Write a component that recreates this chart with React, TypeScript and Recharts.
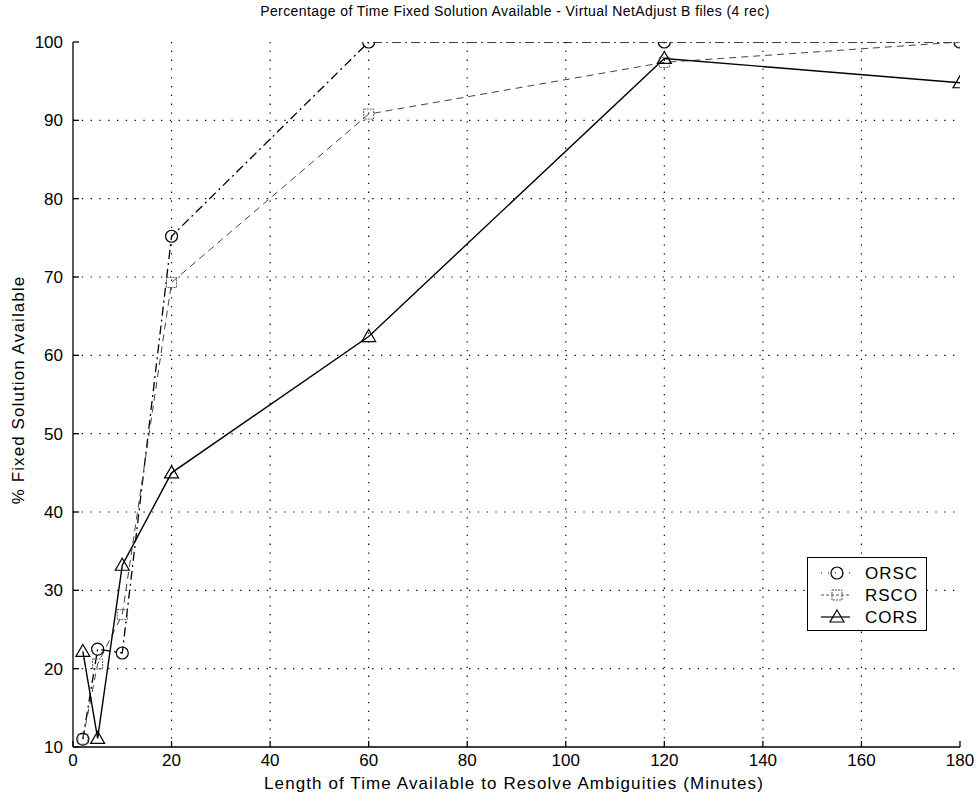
import React from 'react';
import { LineChart, Line, XAxis, YAxis, CartesianGrid, Legend } from 'recharts';

const minutes = [2, 5, 10, 20, 60, 120, 180];
const orsc = [11, 22.5, 22, 75.2, 100, 100, 100];
const rsco = [11, 20.6, 26.9, 69.3, 90.8, 97.4, 100];
const cors = [22.2, 11.1, 33.2, 45.0, 62.4, 97.9, 94.8];

const xTicks = [0, 20, 40, 60, 80, 100, 120, 140, 160, 180];
const yTicks = [10, 20, 30, 40, 50, 60, 70, 80, 90, 100];

const titleText = 'Percentage of Time Fixed Solution Available - Virtual NetAdjust B files (4 rec)';
const xLabelText = 'Length of Time Available to Resolve Ambiguities (Minutes)';
const yLabelText = '% Fixed Solution Available';

const seriesNames = ['ORSC', 'RSCO', 'CORS'];

const data = minutes.map((m, i) => ({ m, ORSC: orsc[i], RSCO: rsco[i], CORS: cors[i] }));

const FONT = '"Liberation Sans", Arial, Helvetica, sans-serif';

const CircleDot = (p: any) => (
  <circle key={`c${p.index}`} cx={p.cx} cy={p.cy} r={6} fill="none" stroke="#000" strokeWidth={1.2} />
);
const SquareDot = (p: any) => (
  <rect key={`s${p.index}`} x={p.cx - 5} y={p.cy - 5} width={10} height={10} fill="none" stroke="#555" strokeWidth={1} strokeDasharray="2 1" />
);
const TriDot = (p: any) => (
  <path key={`t${p.index}`} d={`M${p.cx},${p.cy - 7} L${p.cx + 7},${p.cy + 5} L${p.cx - 7},${p.cy + 5} Z`} fill="none" stroke="#000" strokeWidth={1.2} />
);

const LegendBox = () => (
  <div
    style={{
      position: 'absolute',
      left: 807,
      top: 557,
      width: 120,
      height: 74,
      border: '1.3px solid #000',
      background: '#fff',
      boxSizing: 'border-box',
    }}
  >
    <svg width={118} height={72} style={{ position: 'absolute', left: 0, top: 0 }}>
      <line x1={13} y1={15} x2={42} y2={15} stroke="#000" strokeWidth={1.2} strokeDasharray="1 6" />
      <circle cx={29} cy={15} r={6} fill="none" stroke="#000" strokeWidth={1.2} />
      <line x1={13} y1={37} x2={42} y2={37} stroke="#555" strokeWidth={1} strokeDasharray="3 2" />
      <rect x={24} y={32} width={10} height={10} fill="none" stroke="#555" strokeDasharray="2 1" />
      <line x1={13} y1={59} x2={42} y2={59} stroke="#000" strokeWidth={1.2} />
      <path d="M29,52 L36,64 L22,64 Z" fill="none" stroke="#000" strokeWidth={1.2} />
      {seriesNames.map((n, i) => (
        <text key={n} x={57} y={15 + i * 22} dy="0.36em" fontFamily={FONT} fontSize={17} letterSpacing={1} fill="#000">
          {n}
        </text>
      ))}
    </svg>
  </div>
);

export default function App() {
  return (
    <div style={{ position: 'absolute', left: 0, top: 0, width: 979, height: 802, background: '#fff' }}>
      <LineChart
        width={979}
        height={802}
        data={data}
        margin={{ top: 42, right: 19, left: 13, bottom: 0 }}
      >
        <CartesianGrid
          stroke="#000"
          strokeDasharray="1.3 7.5"
          strokeWidth={1.2}
          horizontalValues={yTicks.slice(1, -1)}
          verticalValues={xTicks.slice(1, -1)}
        />
        <XAxis
          dataKey="m"
          type="number"
          domain={[0, 180]}
          ticks={xTicks}
          height={55}
          stroke="#000"
          strokeWidth={1.3}
          tickSize={-6}
          tickMargin={13}
          tick={{ fill: '#000', fontSize: 17, fontFamily: FONT }}
          interval={0}
          allowDataOverflow
        />
        <XAxis
          xAxisId="top"
          orientation="top"
          dataKey="m"
          type="number"
          domain={[0, 180]}
          ticks={xTicks}
          height={0}
          stroke="#000"
          strokeWidth={1.3}
          tickSize={-6}
          tick={false}
          interval={0}
        />
        <YAxis
          type="number"
          domain={[10, 100]}
          ticks={yTicks}
          width={60}
          stroke="#000"
          strokeWidth={1.3}
          tickSize={-6}
          tickMargin={16}
          tick={{ fill: '#000', fontSize: 17, fontFamily: FONT }}
          interval={0}
          allowDataOverflow
        />
        <YAxis
          yAxisId="right"
          orientation="right"
          type="number"
          domain={[10, 100]}
          ticks={yTicks}
          width={0}
          stroke="#000"
          strokeWidth={1.3}
          tickSize={-6}
          tick={false}
          interval={0}
        />
        <Line
          dataKey="ORSC"
          stroke="#000"
          strokeWidth={1.3}
          strokeDasharray="9 4 2 4"
          dot={CircleDot}
          activeDot={false}
          isAnimationActive={false}
        />
        <Line
          dataKey="RSCO"
          stroke="#444"
          strokeWidth={1}
          strokeDasharray="7 5"
          dot={SquareDot}
          activeDot={false}
          isAnimationActive={false}
        />
        <Line
          dataKey="CORS"
          stroke="#000"
          strokeWidth={1.4}
          dot={TriDot}
          activeDot={false}
          isAnimationActive={false}
        />
        <Legend content={() => null} />
      </LineChart>
      <div
        style={{
          position: 'absolute',
          left: 0,
          top: 3,
          width: 1030,
          textAlign: 'center',
          fontFamily: FONT,
          fontSize: 14,
          letterSpacing: '0.42px',
          color: '#000',
          whiteSpace: 'nowrap',
        }}
      >
        {titleText}
      </div>
      <div
        style={{
          position: 'absolute',
          left: 0,
          top: 774,
          width: 1028,
          textAlign: 'center',
          fontFamily: FONT,
          fontSize: 17,
          letterSpacing: '1.1px',
          color: '#000',
          whiteSpace: 'nowrap',
        }}
      >
        {xLabelText}
      </div>
      <div
        style={{
          position: 'absolute',
          left: 19,
          top: 390,
          width: 0,
          height: 0,
        }}
      >
        <div
          style={{
            position: 'absolute',
            left: -200,
            top: -10,
            width: 400,
            textAlign: 'center',
            fontFamily: FONT,
            fontSize: 17,
            letterSpacing: '1.1px',
            color: '#000',
            whiteSpace: 'nowrap',
            transform: 'rotate(-90deg)',
            transformOrigin: '200px 10px',
            lineHeight: '20px',
          }}
        >
          {yLabelText}
        </div>
      </div>
      <LegendBox />
    </div>
  );
}
